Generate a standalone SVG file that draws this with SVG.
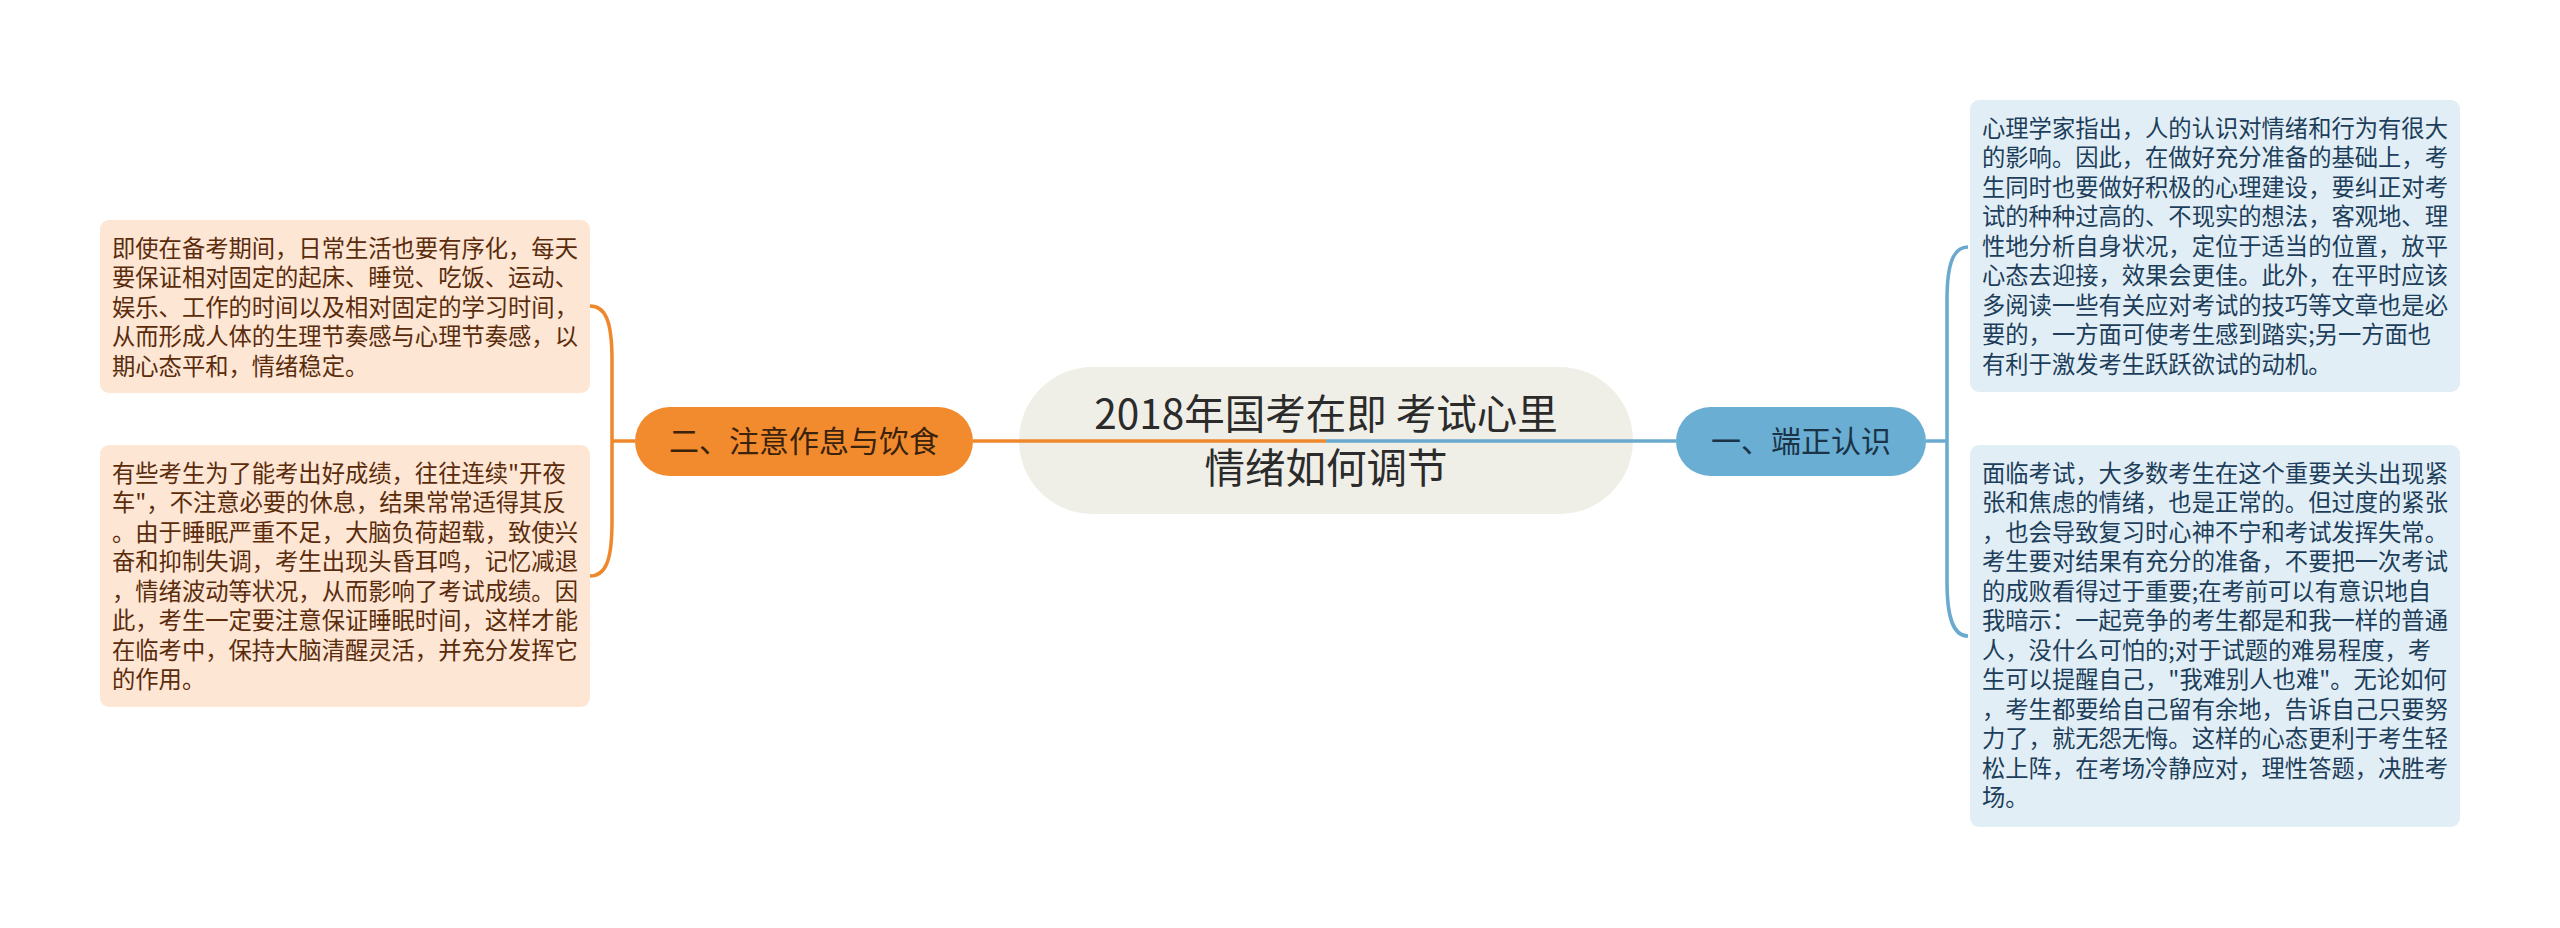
<svg xmlns="http://www.w3.org/2000/svg" width="2560" height="928" viewBox="0 0 2560 928">
<style>
text{font-family:"Noto Sans CJK SC","Noto Sans",sans-serif;}
.leafL{fill:#fde6d4;}
.leafR{fill:#e2eef6;}
.tL{font-size:23.3px;fill:#5a2c0c;}
.tR{font-size:23.3px;fill:#1d3e5a;}
.conO{fill:none;stroke:#ef882c;stroke-width:3.5;}
.conB{fill:none;stroke:#6aaace;stroke-width:3.5;}
.sub{font-size:30px;text-anchor:middle;}
</style>
<rect width="2560" height="928" fill="#ffffff"/>
<g id="center">
<rect x="1019" y="367" width="614" height="147" rx="73.5" fill="#efefe7"/>
<text x="1326" y="429" font-size="40.5" text-anchor="middle" fill="#2b2b2b">2018年国考在即 考试心里</text>
<text x="1326" y="483" font-size="40.5" text-anchor="middle" fill="#2b2b2b">情绪如何调节</text>
</g>
<g id="node-orange">
<rect x="635" y="407" width="338" height="69" rx="34.5" fill="#f28b2e"/>
<text class="sub" x="804" y="452" fill="#3a220c">二、注意作息与饮食</text>
</g>
<g id="node-blue">
<rect x="1676" y="407" width="250" height="69" rx="34.5" fill="#6aaed4"/>
<text class="sub" x="1801" y="452" fill="#1a3346">一、端正认识</text>
</g>
<g id="leaf-left-1">
<rect class="leafL" x="100" y="220" width="490" height="173" rx="9"/>
<text class="tL" x="112" y="256.5">即使在备考期间，日常生活也要有序化，每天</text>
<text class="tL" x="112" y="286">要保证相对固定的起床、睡觉、吃饭、运动、</text>
<text class="tL" x="112" y="315.5">娱乐、工作的时间以及相对固定的学习时间，</text>
<text class="tL" x="112" y="345">从而形成人体的生理节奏感与心理节奏感，以</text>
<text class="tL" x="112" y="374.5">期心态平和，情绪稳定。</text>
</g>
<g id="leaf-left-2">
<rect class="leafL" x="100" y="445" width="490" height="262" rx="9"/>
<text class="tL" x="112" y="481.5">有些考生为了能考出好成绩，往往连续"开夜</text>
<text class="tL" x="112" y="511">车"，不注意必要的休息，结果常常适得其反</text>
<text class="tL" x="112" y="540.5">。由于睡眠严重不足，大脑负荷超载，致使兴</text>
<text class="tL" x="112" y="570">奋和抑制失调，考生出现头昏耳鸣，记忆减退</text>
<text class="tL" x="112" y="599.5">，情绪波动等状况，从而影响了考试成绩。因</text>
<text class="tL" x="112" y="629">此，考生一定要注意保证睡眠时间，这样才能</text>
<text class="tL" x="112" y="658.5">在临考中，保持大脑清醒灵活，并充分发挥它</text>
<text class="tL" x="112" y="688">的作用。</text>
</g>
<g id="leaf-right-1">
<rect class="leafR" x="1970" y="100" width="490" height="292" rx="9"/>
<text class="tR" x="1982" y="136.5">心理学家指出，人的认识对情绪和行为有很大</text>
<text class="tR" x="1982" y="166">的影响。因此，在做好充分准备的基础上，考</text>
<text class="tR" x="1982" y="195.5">生同时也要做好积极的心理建设，要纠正对考</text>
<text class="tR" x="1982" y="225">试的种种过高的、不现实的想法，客观地、理</text>
<text class="tR" x="1982" y="254.5">性地分析自身状况，定位于适当的位置，放平</text>
<text class="tR" x="1982" y="284">心态去迎接，效果会更佳。此外，在平时应该</text>
<text class="tR" x="1982" y="313.5">多阅读一些有关应对考试的技巧等文章也是必</text>
<text class="tR" x="1982" y="343">要的，一方面可使考生感到踏实;另一方面也</text>
<text class="tR" x="1982" y="372.5">有利于激发考生跃跃欲试的动机。</text>
</g>
<g id="leaf-right-2">
<rect class="leafR" x="1970" y="445" width="490" height="382" rx="9"/>
<text class="tR" x="1982" y="481.5">面临考试，大多数考生在这个重要关头出现紧</text>
<text class="tR" x="1982" y="511">张和焦虑的情绪，也是正常的。但过度的紧张</text>
<text class="tR" x="1982" y="540.5">，也会导致复习时心神不宁和考试发挥失常。</text>
<text class="tR" x="1982" y="570">考生要对结果有充分的准备，不要把一次考试</text>
<text class="tR" x="1982" y="599.5">的成败看得过于重要;在考前可以有意识地自</text>
<text class="tR" x="1982" y="629">我暗示：一起竞争的考生都是和我一样的普通</text>
<text class="tR" x="1982" y="658.5">人，没什么可怕的;对于试题的难易程度，考</text>
<text class="tR" x="1982" y="688">生可以提醒自己，"我难别人也难"。无论如何</text>
<text class="tR" x="1982" y="717.5">，考生都要给自己留有余地，告诉自己只要努</text>
<text class="tR" x="1982" y="747">力了，就无怨无悔。这样的心态更利于考生轻</text>
<text class="tR" x="1982" y="776.5">松上阵，在考场冷静应对，理性答题，决胜考</text>
<text class="tR" x="1982" y="806">场。</text>
</g>
<g id="connectors">
<path class="conO" d="M1326,441 L973,441"/>
<path class="conB" d="M1326,441 L1676,441"/>
<path class="conO" d="M635,441 L612,441"/>
<path class="conO" d="M612,441 L612,360 C612,320 605,306 590,306"/>
<path class="conO" d="M612,441 L612,522 C612,562 605,576 590,576"/>
<path class="conB" d="M1926,441 L1947,441"/>
<path class="conB" d="M1947,441 L1947,300 C1947,262 1954,247 1968,247"/>
<path class="conB" d="M1947,441 L1947,582 C1947,620 1954,636 1968,636"/>
</g>
</svg>
